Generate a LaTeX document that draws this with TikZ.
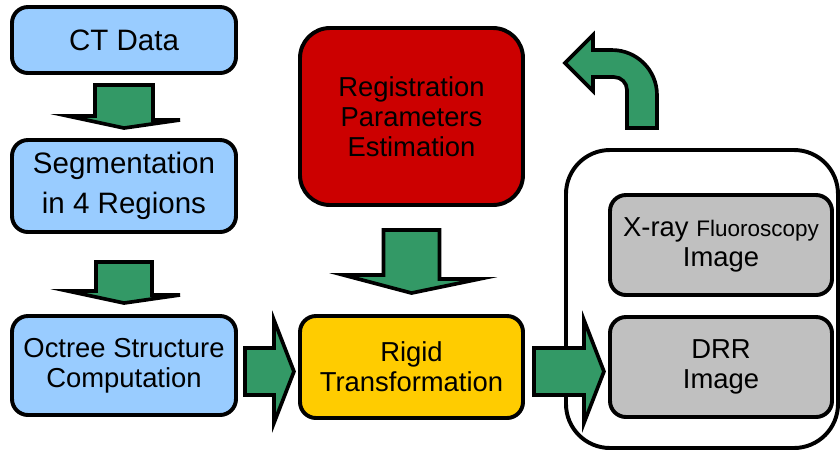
\documentclass[tikz,border=0pt]{standalone}
\usepackage{fontspec}
\setmainfont{Liberation Sans}
\usetikzlibrary{positioning,calc}

\definecolor{ctblue}{HTML}{99CCFF}
\definecolor{regred}{HTML}{CC0000}
\definecolor{rigyellow}{HTML}{FFCC00}
\definecolor{imggray}{HTML}{C0C0C0}
\definecolor{arrgreen}{HTML}{339966}

\begin{document}
\begin{tikzpicture}[
  box/.style={rectangle, draw, line width=2.8pt, rounded corners=0.4cm, align=center,
    inner sep=2pt, font=\fontsize{19.5}{21.5}\selectfont},
  bigtext/.style={font=\fontsize{21}{28.4}\selectfont},
  fatarrow/.style={draw, line width=2.6pt, fill=arrgreen, line join=miter},
]
\useasboundingbox (0,0) rectangle (21,-11.275);

% === Left column ===
\node[box, fill=ctblue, bigtext, minimum width=5.6cm, minimum height=1.65cm] (ct) at (3.1,-1.0) {CT Data};
\node[box, fill=ctblue, bigtext, minimum width=5.6cm, minimum height=2.3cm] (seg) at (3.1,-4.65) {Segmentation\\in 4 Regions};
\node[box, fill=ctblue, minimum width=5.6cm, minimum height=2.475cm] (oct) at (3.1,-9.1375) {Octree Structure\\Computation};

% === Middle column ===
\node[box, fill=regred, rounded corners=0.75cm, minimum width=5.575cm, minimum height=4.425cm] (reg) at (10.2875,-2.9125) {Registration\\Parameters\\Estimation};
\node[box, fill=rigyellow, minimum width=5.575cm, minimum height=2.55cm] (rig) at (10.2875,-9.175) {Rigid\\Transformation};

% === Right group ===
\node[box, fill=white, rounded corners=1.1cm, minimum width=6.8cm, minimum height=7.45cm] (big) at (17.55,-7.475) {};
\node[box, fill=imggray, minimum width=5.55cm, minimum height=2.5cm] (xray) at (18.025,-6.125) {X-ray {\fontsize{16}{21.5}\selectfont Fluoroscopy}\\Image};
\node[box, fill=imggray, minimum width=5.55cm, minimum height=2.5cm] (drr) at (18.025,-9.175) {DRR\\Image};

% === Block arrows ===
\draw[fatarrow] ($(ct.south)+(-0.725,-0.25)$) -- ++(1.45,0) -- ++(0,-0.875) -- ++(0.675,0)
  -- ($(seg.north)+(0,0.25)$) -- ++(-1.4,0.3) -- ++(0.675,0) -- cycle;
\draw[fatarrow] ($(seg.south)+(-0.7,-0.7)$) -- ++(1.4,0) -- ++(0,-0.825) -- ++(0.7,0)
  -- ($(oct.north)+(0,0.275)$) -- ++(-1.4,0.3) -- ++(0.7,0) -- cycle;
\draw[fatarrow] ($(reg.south)+(-0.7,-0.575)$) -- ++(1.4,0) -- ++(0,-1.225) -- ++(1.0,0)
  -- ($(rig.north)+(0,0.525)$) -- ++(-1.7,0.45) -- ++(1.0,0) -- cycle;

\coordinate (ar1) at ($(oct.east)+(0.175,-0.15)$);
\draw[fatarrow] ($(ar1)+(0,0.5875)$) -- ++(0.725,0) -- ++(0,0.7) -- ++(0.5,-1.2875)
  -- ++(-0.5,-1.2875) -- ++(0,0.7) -- ++(-0.725,0) -- cycle;
\coordinate (ar2) at ($(rig.east)+(0.225,-0.1125)$);
\draw[fatarrow] ($(ar2)+(0,0.5875)$) -- ++(1.25,0) -- ++(0,0.7) -- ++(0.5,-1.2875)
  -- ++(-0.5,-1.2875) -- ++(0,0.7) -- ++(-1.25,0) -- cycle;

% feedback arrow
\coordinate (fb) at ($(big.north)+(-1.875,0.5)$);
\draw[fatarrow] (fb) -- ++(0.75,0) -- ++(0,0.825) arc (0:90:1.125) -- ++(-0.475,0)
  -- ++(0,0.375) -- ++(-0.7,-0.7) -- ++(0.7,-0.7) -- ++(0,0.35) -- ++(0.525,0)
  arc (90:0:0.325) -- cycle;

\end{tikzpicture}
\end{document}
